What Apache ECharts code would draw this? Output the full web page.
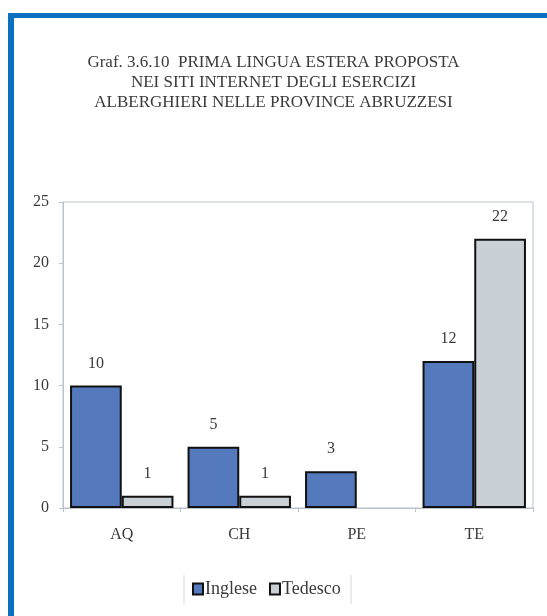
<!DOCTYPE html>
<html>
<head>
<meta charset="utf-8">
<script src="https://cdn.jsdelivr.net/npm/echarts@6/dist/echarts.min.js"></script>
<style>
  html, body { margin: 0; padding: 0; background: #fff; }
  #frame {
    position: absolute; left: 8px; top: 13px; right: 0; bottom: 0;
    border-left: 6px solid #0a70c0; border-top: 5px solid #0a70c0;
  }
  #chart { position: absolute; left: 0; top: 0; width: 547px; height: 616px; }
</style>
</head>
<body>
<div id="frame"></div>
<div id="chart"></div>
<script>
  // dati del grafico
  const categories = ['AQ', 'CH', 'PE', 'TE'];
  const inglese = [10, 5, 3, 12];
  const tedesco = [1, 1, null, 22];
  const yTicks = [0, 5, 10, 15, 20, 25];
  const titleLines = [
    'Graf. 3.6.10  PRIMA LINGUA ESTERA PROPOSTA',
    'NEI SITI INTERNET DEGLI ESERCIZI',
    'ALBERGHIERI NELLE PROVINCE ABRUZZESI'
  ];

  const SERIF = '"Liberation Serif", "DejaVu Serif", serif';
  const C = {
    blue: '#5579bd',
    grey: '#c9d1d6',
    axis: '#b9c3cb',
    ink: '#3a3a3a'
  };

  const chart = echarts.init(document.getElementById('chart'), null, { renderer: 'canvas' });

  const barLabel = {
    show: true, position: 'top', distance: 14,
    color: C.ink, fontFamily: SERIF, fontSize: 16
  };

  chart.setOption({
    animation: false,
    title: {
      text: titleLines.join('\n'),
      left: 'center', top: 48,
      textStyle: { fontFamily: SERIF, fontSize: 17, fontWeight: 'normal', color: C.ink, lineHeight: 20 }
    },
    grid: {
      left: 63, right: 14, top: 202, bottom: 108,
      show: true, borderColor: C.axis, borderWidth: 1
    },
    xAxis: {
      type: 'category', data: categories,
      axisLine: { lineStyle: { color: C.axis } },
      axisTick: { show: true, length: 4, lineStyle: { color: C.axis } },
      axisLabel: { color: C.ink, fontFamily: SERIF, fontSize: 16, margin: 19 }
    },
    yAxis: {
      type: 'value', min: yTicks[0], max: yTicks[yTicks.length - 1], interval: yTicks[1] - yTicks[0],
      splitLine: { show: false },
      axisLine: { show: true, lineStyle: { color: C.axis } },
      axisTick: { show: true, length: 4, lineStyle: { color: C.axis } },
      axisLabel: { color: C.ink, fontFamily: SERIF, fontSize: 16, margin: 14 }
    },
    legend: {
      bottom: 13, left: 187,
      icon: 'rect', itemWidth: 10, itemHeight: 11, itemGap: 12,
      textStyle: { color: C.ink, fontFamily: SERIF, fontSize: 18, padding: [0, 0, 0, -3] }
    },
    graphic: [
      { type: 'line', shape: { x1: 184, y1: 575, x2: 184, y2: 604 }, style: { stroke: '#d8d8d8', lineWidth: 1 } },
      { type: 'line', shape: { x1: 351, y1: 575, x2: 351, y2: 604 }, style: { stroke: '#d8d8d8', lineWidth: 1 } }
    ],
    series: [
      {
        name: 'Inglese', type: 'bar', data: inglese,
        barGap: '0%', barCategoryGap: '12%',
        itemStyle: { color: C.blue, borderColor: '#111', borderWidth: 2 },
        label: barLabel
      },
      {
        name: 'Tedesco', type: 'bar', data: tedesco,
        itemStyle: { color: C.grey, borderColor: '#111', borderWidth: 2 },
        label: barLabel
      }
    ]
  });
</script>
</body>
</html>
